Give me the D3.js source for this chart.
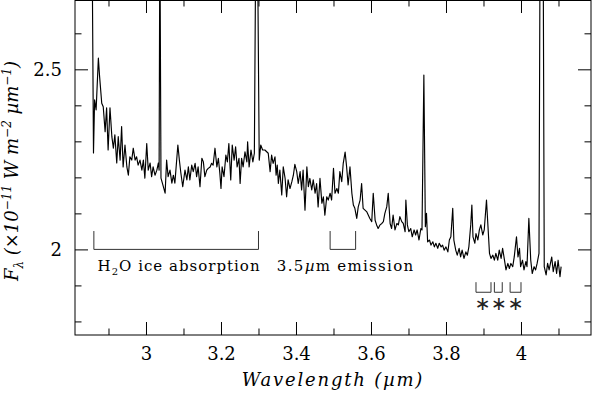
<!DOCTYPE html>
<html><head><meta charset="utf-8">
<script src="https://cdn.jsdelivr.net/npm/d3@7"></script>
<style>body{margin:0;background:#fff}svg{display:block}text{font-family:"DejaVu Serif",serif}</style>
</head><body><svg id="c" width="593" height="393"></svg>
<script>
// Spectrum: [wavelength (µm), F_lambda (1e-11 W m^-2 µm^-1)]; spikes run off the top of the plot
const spectrum = [
[2.856,2.9],[2.860,2.268],[2.863,2.415],[2.867,2.387],[2.873,2.531],[2.876,2.484],[2.882,2.406],[2.886,2.396],[2.891,2.327],[2.895,2.393],[2.899,2.276],[2.904,2.393],[2.909,2.313],[2.913,2.281],[2.917,2.318],[2.922,2.240],[2.926,2.313],[2.931,2.248],[2.935,2.341],[2.939,2.229],[2.944,2.290],[2.949,2.229],[2.953,2.206],[2.957,2.257],[2.962,2.248],[2.966,2.281],[2.971,2.248],[2.975,2.257],[2.979,2.234],[2.984,2.248],[2.989,2.220],[2.993,2.248],[2.997,2.198],[3.002,2.294],[3.006,2.220],[3.011,2.240],[3.015,2.202],[3.019,2.229],[3.024,2.206],[3.029,2.220],[3.033,2.240],[3.035,2.220],[3.037,2.9],[3.040,2.198],[3.045,2.179],[3.051,2.156],[3.055,2.248],[3.059,2.202],[3.064,2.220],[3.069,2.184],[3.073,2.206],[3.077,2.184],[3.085,2.290],[3.089,2.248],[3.093,2.212],[3.098,2.174],[3.104,2.220],[3.109,2.193],[3.113,2.229],
[3.117,2.193],[3.122,2.234],[3.126,2.216],[3.131,2.239],[3.135,2.202],[3.139,2.229],[3.144,2.174],[3.149,2.253],[3.153,2.243],[3.157,2.202],[3.162,2.220],[3.166,2.225],[3.171,2.229],[3.175,2.239],[3.179,2.234],[3.184,2.281],[3.189,2.229],[3.193,2.253],[3.197,2.211],[3.200,2.169],[3.203,2.229],[3.208,2.202],[3.213,2.262],[3.217,2.243],[3.221,2.294],[3.226,2.193],[3.230,2.290],[3.235,2.248],[3.239,2.285],[3.243,2.229],[3.248,2.253],[3.251,2.183],[3.255,2.253],[3.259,2.229],[3.264,2.271],[3.269,2.243],[3.271,2.299],[3.275,2.229],[3.280,2.276],[3.285,2.243],[3.289,2.267],[3.293,2.9],[3.297,2.9],[3.302,2.248],[3.306,2.290],[3.311,2.276],[3.317,2.276],[3.326,2.267],[3.331,2.216],[3.335,2.262],[3.339,2.239],[3.344,2.257],[3.347,2.206],[3.350,2.234],[3.353,2.183],[3.357,2.220],[3.362,2.151],[3.366,2.229],[3.371,2.197],[3.375,2.146],[3.379,2.193],[3.384,2.169],[3.389,2.188],[3.393,2.206],[3.397,2.236],
[3.402,2.216],[3.406,2.183],[3.411,2.216],[3.415,2.165],[3.419,2.220],[3.424,2.109],[3.429,2.229],[3.433,2.174],[3.437,2.197],[3.442,2.165],[3.446,2.193],[3.451,2.156],[3.455,2.183],[3.459,2.118],[3.464,2.197],[3.469,2.128],[3.473,2.146],[3.477,2.095],[3.482,2.146],[3.486,2.137],[3.491,2.156],[3.495,2.137],[3.500,2.225],[3.504,2.156],[3.509,2.169],[3.513,2.156],[3.517,2.216],[3.522,2.188],[3.526,2.239],[3.531,2.270],[3.535,2.229],[3.539,2.179],[3.544,2.229],[3.549,2.156],[3.553,2.123],[3.557,2.114],[3.562,2.086],[3.566,2.118],[3.571,2.137],[3.575,2.183],[3.579,2.114],[3.584,2.109],[3.589,2.104],[3.593,2.095],[3.597,2.086],[3.602,2.077],[3.606,2.156],[3.611,2.081],[3.615,2.068],[3.619,2.058],[3.624,2.068],[3.629,2.072],[3.633,2.077],[3.637,2.100],[3.642,2.118],[3.646,2.156],[3.651,2.072],[3.655,2.058],[3.659,2.095],[3.664,2.054],[3.669,2.072],[3.673,2.068],[3.677,2.091],
[3.682,2.077],[3.686,2.072],[3.691,2.049],[3.693,2.137],[3.697,2.068],[3.701,2.049],[3.706,2.058],[3.710,2.035],[3.715,2.054],[3.719,2.040],[3.723,2.054],[3.728,2.026],[3.733,2.058],[3.736,2.054],[3.741,2.484],[3.745,2.063],[3.748,2.100],[3.751,2.021],[3.756,2.026],[3.760,2.012],[3.765,2.021],[3.769,2.007],[3.773,2.017],[3.778,2.003],[3.782,2.017],[3.787,2.007],[3.791,2.012],[3.795,1.998],[3.800,2.007],[3.805,1.993],[3.809,2.026],[3.813,2.035],[3.818,2.114],[3.821,2.026],[3.826,1.998],[3.830,1.984],[3.835,2.003],[3.839,1.979],[3.843,1.998],[3.848,1.975],[3.853,1.993],[3.857,1.984],[3.861,2.007],[3.866,2.068],[3.869,2.123],[3.872,2.035],[3.877,2.017],[3.880,2.044],[3.885,2.026],[3.889,2.054],[3.893,2.068],[3.898,2.040],[3.902,2.054],[3.908,2.137],[3.912,2.063],[3.916,1.989],[3.920,1.975],[3.925,1.984],[3.929,1.970],[3.933,1.989],[3.938,1.970],[3.942,1.998],[3.947,1.975],[3.951,2.003],[3.956,1.970],[3.960,1.943],[3.965,1.961],[3.969,1.947],[3.973,1.961],[3.978,1.952],[3.982,1.979],[3.988,2.035],[3.992,1.979],[3.996,2.003],[3.999,1.952],[4.004,1.970],[4.008,1.943],[4.013,1.966],[4.016,1.952],[4.021,2.086],[4.026,1.970],[4.030,1.933],[4.035,1.952],[4.039,1.943],[4.043,1.961],[4.048,1.989],[4.051,2.9],[4.059,2.9],[4.062,1.952],[4.067,1.929],[4.071,1.961],[4.075,1.943],[4.082,1.979],[4.086,1.938],[4.091,1.966],[4.095,1.933],[4.099,1.970],[4.104,1.924],[4.107,1.952]
];
const xMajorTicks = [3, 3.2, 3.4, 3.6, 3.8, 4];
const xMajorLabels = ["3", "3.2", "3.4", "3.6", "3.8", "4"];
const xMinorTicks = [2.9, 3.1, 3.3, 3.5, 3.7, 3.9, 4.1];
const yMajorTicks = [2, 2.5];
const yMajorLabels = ["2", "2.5"];
const yMinorTicks = [1.8, 1.9, 2.1, 2.2, 2.3, 2.4, 2.6];
// feature brackets: [from, to, top, base]
const featureBrackets = [[2.861, 3.300, 2.051, 2.0], [3.491, 3.559, 2.051, 2.0]];
// star (telluric) brackets: [from, to], open upward
const starBrackets = [[3.880, 3.920], [3.929, 3.950], [3.971, 4.000]];
const starBracketLevels = [1.909, 1.881];
const starPositions = [3.898, 3.941, 3.986];

const L = 75, R = 591, T = 0, B = 335;
const svg = d3.select('#c');
const x = d3.scaleLinear().domain([2.8107, 4.1867]).range([L, R]);
const y = d3.scaleLinear().domain([1.7623, 2.6925]).range([B, T]);

svg.append('defs').append('clipPath').attr('id', 'clip')
  .append('rect').attr('x', L).attr('y', T).attr('width', R - L).attr('height', B - T);

const MAJ = 13, MIN = 6.5;
function addAxis(gen, tr, vals, size, labels, pad) {
  const a = gen.tickValues(vals).tickSizeInner(-size).tickSizeOuter(0).tickPadding(pad || 0)
    .tickFormat(labels ? (d, i) => labels[i] : () => "");
  const g = svg.append('g').attr('transform', tr).call(a);
  g.select('.domain').remove();
  g.attr('font-family', null).attr('font-size', null);
  g.selectAll('line').attr('stroke', '#000').attr('stroke-width', 1);
  g.selectAll('text').attr('fill', '#000').style('font-size', '18px').style('font-family', '"DejaVu Serif", serif');
  return g;
}
addAxis(d3.axisBottom(x), `translate(0,${B})`, xMajorTicks, MAJ, xMajorLabels, 12);
addAxis(d3.axisBottom(x), `translate(0,${B})`, xMinorTicks, MIN);
addAxis(d3.axisTop(x), `translate(0,${T})`, xMajorTicks, MAJ);
addAxis(d3.axisTop(x), `translate(0,${T})`, xMinorTicks, MIN);
addAxis(d3.axisLeft(y), `translate(${L},0)`, yMajorTicks, MAJ, yMajorLabels, 13);
addAxis(d3.axisLeft(y), `translate(${L},0)`, yMinorTicks, MIN);
addAxis(d3.axisRight(y), `translate(${R},0)`, yMajorTicks, MAJ);
addAxis(d3.axisRight(y), `translate(${R},0)`, yMinorTicks, MIN);

svg.append('rect').attr('x', L).attr('y', T + 0.5).attr('width', R - L).attr('height', B - T - 0.5)
  .attr('fill', 'none').attr('stroke', '#000').attr('stroke-width', 1);

svg.append('path').datum(spectrum).attr('clip-path', 'url(#clip)')
  .attr('fill', 'none').attr('stroke', '#000').attr('stroke-width', 1.15).attr('stroke-linejoin', 'round')
  .attr('d', d3.line().x(d => x(d[0])).y(d => y(d[1])));

// feature brackets
svg.selectAll('.fb').data(featureBrackets).enter().append('path')
  .attr('fill', 'none').attr('stroke', '#333').attr('stroke-width', 1)
  .attr('d', d => `M${x(d[0])},${y(d[2])}V${y(d[3])}H${x(d[1])}V${y(d[2])}`);
svg.selectAll('.sb').data(starBrackets).enter().append('path')
  .attr('fill', 'none').attr('stroke', '#333').attr('stroke-width', 1)
  .attr('d', d => `M${x(d[0])},${y(starBracketLevels[0])}V${y(starBracketLevels[1])}H${x(d[1])}V${y(starBracketLevels[0])}`);
svg.selectAll('.st').data(starPositions).enter().append('text')
  .attr('x', d => x(d)).attr('y', y(1.851)).attr('text-anchor', 'middle').attr('dominant-baseline', 'central')
  .attr('fill', '#222').style('font-size', '19px').style('font-family', '"DejaVu Sans", sans-serif').text('∗');

// feature labels
const t1 = svg.append('text').attr('x', x(2.871)).attr('y', 271).style('font-size', '15px').style('letter-spacing', '1px');
t1.append('tspan').text('H');
t1.append('tspan').attr('dy', 4).style('font-size', '10px').text('2');
t1.append('tspan').attr('dy', -4).text('O ice absorption');
const t2 = svg.append('text').attr('x', x(3.349)).attr('y', 271).style('font-size', '15px').style('letter-spacing', '1.3px');
t2.append('tspan').text('3.5');
t2.append('tspan').style('font-style', 'italic').text('µ');
t2.append('tspan').text('m emission');

// axis titles
svg.append('text').attr('x', (L + R) / 2).attr('y', 386).attr('text-anchor', 'middle')
  .style('font-size', '18px').style('font-style', 'italic').style('letter-spacing', '1.8px').text('Wavelength (µm)');
const yt = svg.append('text').attr('transform', 'translate(18,171) rotate(-90)').attr('text-anchor', 'middle')
  .style('font-size', '18px').style('font-style', 'italic');
yt.append('tspan').text('F');
yt.append('tspan').attr('dy', 5).style('font-size', '12px').text('λ');
yt.append('tspan').attr('dy', -5).text(' (×10');
yt.append('tspan').attr('dy', -7).style('font-size', '12px').text('−11');
yt.append('tspan').attr('dy', 7).text(' W m');
yt.append('tspan').attr('dy', -7).style('font-size', '12px').text('−2');
yt.append('tspan').attr('dy', 7).text(' µm');
yt.append('tspan').attr('dy', -7).style('font-size', '12px').text('−1');
yt.append('tspan').attr('dy', 7).text(')');
</script></body></html>
